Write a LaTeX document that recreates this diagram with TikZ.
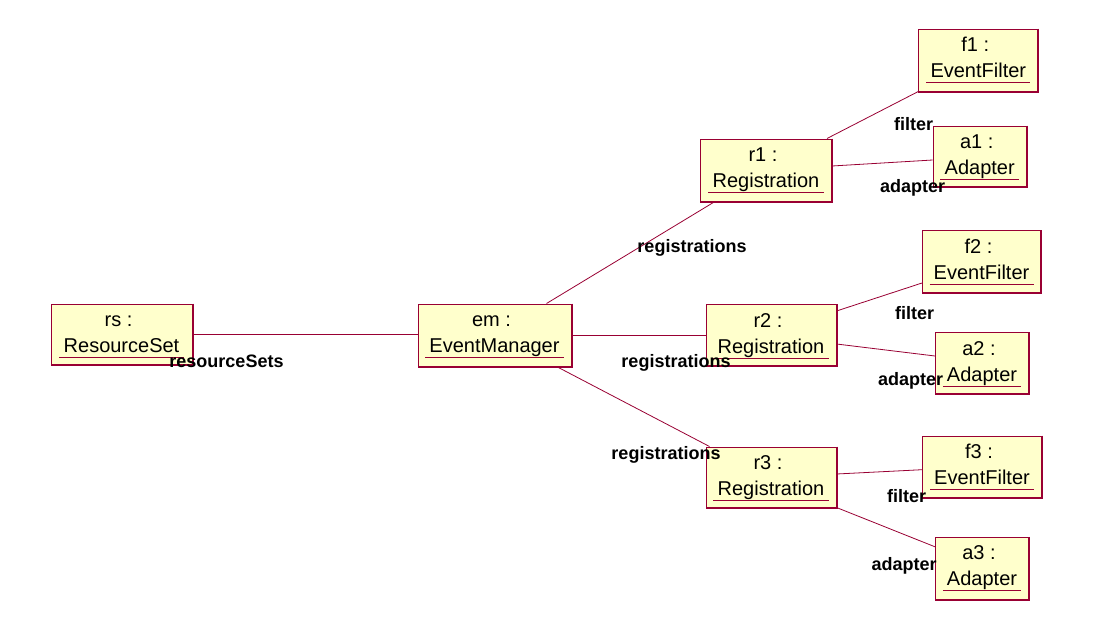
\documentclass[tikz,border=0pt]{standalone}
\usepackage{fontspec}
\setmainfont{Liberation Sans}
\definecolor{bordercol}{HTML}{990033}
\definecolor{fillcol}{HTML}{FFFFCC}
\tikzset{
  x=1pt, y=-1pt,
  objbox/.style={draw=bordercol, fill=fillcol, line width=1pt, inner sep=0pt, rectangle},
  objtext/.style={anchor=base, inner sep=0pt, font=\fontsize{20}{24}\selectfont, text=black},
  rolelabel/.style={anchor=base, inner sep=0pt, font=\fontsize{18}{21}\selectfont\bfseries, text=black},
  link/.style={draw=bordercol, line width=0.8pt},
  uline/.style={draw=bordercol, line width=0.9pt},
}
\newcommand{\objnode}[7]{%
  \node[objbox, minimum width=#4pt, minimum height=#5pt] (#1) at (#2,#3) {};
  \draw[bordercol, line width=1pt] ([shift={(0.6pt,0pt)}]#1.north east) -- ([shift={(0.6pt,-0.6pt)}]#1.south east) -- ([shift={(0pt,-0.6pt)}]#1.south west);
  \node[objtext] (#1-a) at ([shift={(-3pt,-23pt)}]#1.north) {#6};
  \node[objtext] (#1-b) at ([shift={(0pt,-49pt)}]#1.north) {#7};
  \draw[uline] ([shift={(-4pt,-5pt)}]#1-b.base west) -- ([shift={(4pt,-5pt)}]#1-b.base east);
}
\begin{document}
\begin{tikzpicture}
\useasboundingbox[fill=white] (0,0) rectangle (1094,632);
\objnode{rs}{121.5}{334}{141}{60}{rs :}{ResourceSet}
\objnode{em}{494.5}{335}{153}{62}{em :}{EventManager}
\objnode{r1}{766}{170}{131}{62}{r1 :}{Registration}
\objnode{r2}{771}{335}{130}{61}{r2 :}{Registration}
\objnode{r3}{771}{477}{130}{60}{r3 :}{Registration}
\objnode{f1}{978.3}{60}{119}{62}{f1 :}{EventFilter}
\objnode{a1}{979.7}{156}{93}{60}{a1 :}{Adapter}
\objnode{f2}{981.5}{261.5}{118}{62}{f2 :}{EventFilter}
\objnode{a2}{982}{363}{93}{61}{a2 :}{Adapter}
\objnode{f3}{982}{466.7}{119}{61}{f3 :}{EventFilter}
\objnode{a3}{982}{568.3}{93}{62}{a3 :}{Adapter}

\draw[link] (rs.east) -- (rs.east -| em.west);
\draw[link] (em.east) -- (r2.west);
\draw[link] ([xshift=129pt]em.north west) -- ([xshift=15pt]r1.south west);
\draw[link] ([xshift=139pt]em.south west) -- ([xshift=4pt]r3.north west);
\draw[link] ([xshift=-5pt]r1.north east) -- (f1.south west);
\draw[link] ([yshift=4pt]r1.east) -- ([yshift=-4pt]a1.west);
\draw[link] ([yshift=-7pt]r2.north east) -- ([yshift=10pt]f2.south west);
\draw[link] ([yshift=-9pt]r2.east) -- ([yshift=7pt]a2.west);
\draw[link] ([yshift=3pt]r3.east) -- ([yshift=-3pt]f3.west);
\draw[link] (r3.south east) -- ([yshift=-10pt]a3.north west);

\node[rolelabel] (l-rs) at (226.5,367) {resourceSets};
\node[rolelabel] (l-r1) at (692,252) {registrations};
\node[rolelabel] (l-r2) at (676,367) {registrations};
\node[rolelabel] (l-r3) at (666,459) {registrations};
\node[rolelabel] (l-f1) at (913.5,130) {filter};
\node[rolelabel] (l-a1) at (912.5,192) {adapter};
\node[rolelabel] (l-f2) at (914.5,319) {filter};
\node[rolelabel] (l-a2) at (910.5,385) {adapter};
\node[rolelabel] (l-f3) at (906.5,502.7) {filter};
\node[rolelabel] (l-a3) at (904,570) {adapter};
\end{tikzpicture}
\end{document}
